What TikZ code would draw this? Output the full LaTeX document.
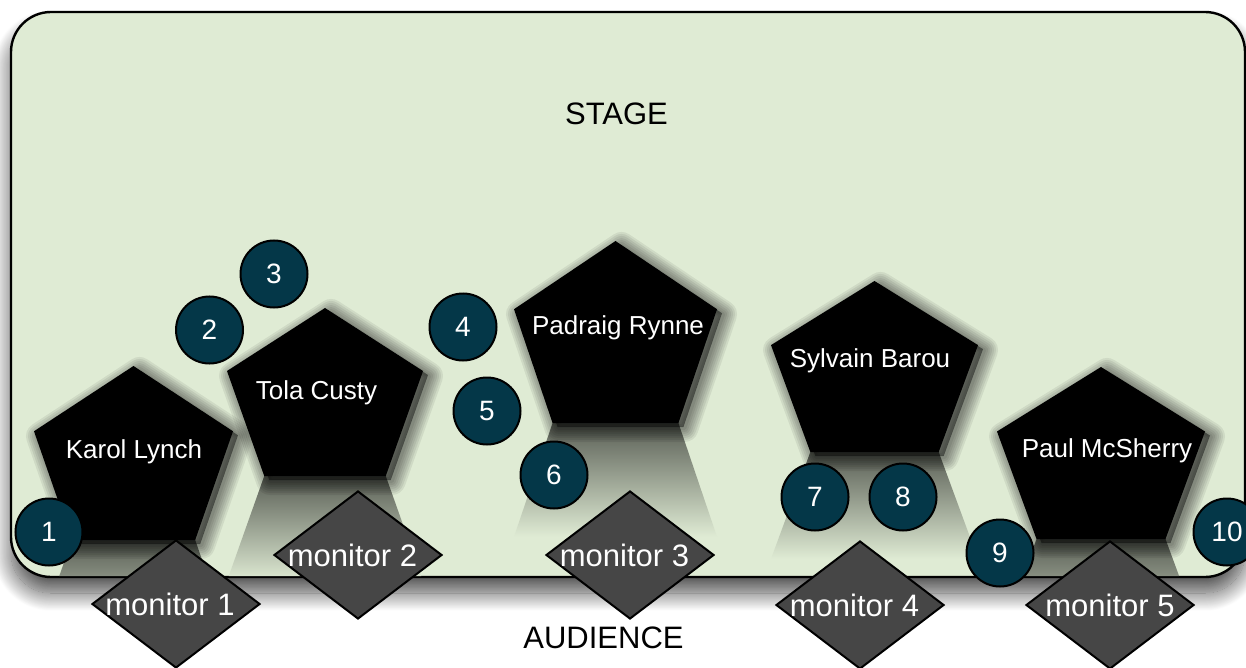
\documentclass[tikz,border=0pt]{standalone}
\usepackage{fontspec}
\setmainfont{Liberation Sans}
\usetikzlibrary{shadows.blur,shapes.geometric}
\definecolor{stagefill}{RGB}{223,235,212}
\definecolor{seatfill}{RGB}{4,55,72}
\definecolor{monfill}{RGB}{70,70,70}
\tikzset{
  stagebox/.style={draw=black, line width=2.4pt, fill=stagefill, rounded corners=40pt,
    blur shadow={shadow xshift=0pt, shadow yshift=-16pt, shadow blur radius=18pt,
      shadow opacity=70, shadow blur steps=24}},
  pentagonfill/.style={fill=black},
  pshadowfill/.style={fill=black, opacity=0.45, xshift=5pt, yshift=-4pt},
  pshadowline/.style={draw=black, opacity=0.07, line join=round, xshift=6pt, yshift=-5pt},
  reflection/.style={top color=stagefill!40!black, middle color=stagefill!82!black, bottom color=stagefill},
  pname/.style={text=white, font=\fontsize{26}{30}\selectfont, anchor=base, inner sep=0pt},
  seat/.style={circle, draw=black, line width=2pt, fill=seatfill, minimum size=67pt, inner sep=0pt,
    text=white, font=\fontsize{28}{32}\selectfont},
  monitor/.style={diamond, draw=black, line width=2pt, fill=monfill, minimum width=168pt,
    minimum height=128pt, inner sep=0pt, text=white, font=\fontsize{31}{35}\selectfont},
  bigtitle/.style={font=\fontsize{31}{35}\selectfont, inner sep=0pt}
}
% #1 name, #2 cx, #3 top, #4 bottom, #5 half width, #6 text x, #7 text baseline, #8 text
\newcommand{\performer}[8]{%
  \pgfmathsetmacro\pxl{#2-#5}%
  \pgfmathsetmacro\pxr{#2+#5}%
  \pgfmathsetmacro\pbl{#2-0.62*#5}%
  \pgfmathsetmacro\pbr{#2+0.62*#5}%
  \pgfmathsetmacro\psy{#3+0.375*(#4-#3)}%
  \pgfmathsetmacro\pry{#4+0.625*(#4-#3)}%
  % reflection, kept on the stage
  \begin{scope}
    \clip[rounded corners=40pt] (12,13) rectangle (1244,576);
    \shade[reflection] (\pbl,#4) -- (\pbr,#4) -- (\pxr,\pry) -- (\pxl,\pry) -- cycle;
  \end{scope}
  % soft drop shadow
  \foreach \w in {28,24,20,16,12,8,4}{%
    \draw[pshadowline, line width=\w pt] (#2,#3) -- (\pxr,\psy) -- (\pbr,#4) -- (\pbl,#4) -- (\pxl,\psy) -- cycle;
  }
  \fill[pshadowfill] (#2,#3) -- (\pxr,\psy) -- (\pbr,#4) -- (\pbl,#4) -- (\pxl,\psy) -- cycle;
  \path[pentagonfill] (#2,#3) -- (\pxr,\psy) -- (\pbr,#4) -- (\pbl,#4) -- (\pxl,\psy) -- cycle;
  \node[pname] (#1) at (#6,#7) {#8};
}
\begin{document}
\begin{tikzpicture}[x=1pt,y=-1pt]
\useasboundingbox (0,0) rectangle (1246,668);
\path[stagebox] (11,12) rectangle (1245,577);
\node[bigtitle] (stage) at (616.5,114) {STAGE};

\performer{karol}{133.5}{366}{540}{99.5}{134}{458}{Karol Lynch}
\performer{tola}{325}{308}{476}{98}{316.5}{399}{Tola Custy}
\performer{padraig}{615.5}{241}{423}{101.5}{618}{334}{Padraig Rynne}
\performer{sylvain}{874.5}{281}{452}{103.5}{870}{367}{Sylvain Barou}
\performer{paul}{1101}{367}{539}{104}{1107}{457}{Paul McSherry}

\node[seat] (s1) at (49,532) {1};
\node[seat] (s2) at (209.5,330) {2};
\node[seat] (s3) at (274,274) {3};
\node[seat] (s4) at (463,327) {4};
\node[seat] (s5) at (487,411) {5};
\node[seat] (s6) at (554,475) {6};
\node[seat] (s7) at (815,497) {7};
\node[seat] (s8) at (903,497) {8};
\node[seat] (s9) at (1000,553) {9};
\node[seat] (s10) at (1227,532) {10};

\node[monitor] (m1) at (176,604) {\hspace*{-12pt}\makebox[0pt]{monitor 1}};
\node[monitor] (m2) at (358,555) {\hspace*{-11pt}\makebox[0pt]{monitor 2}};
\node[monitor] (m3) at (630,555) {\hspace*{-11pt}\makebox[0pt]{monitor 3}};
\node[monitor] (m4) at (860,605) {\hspace*{-11pt}\makebox[0pt]{monitor 4}};
\node[monitor] (m5) at (1110,605) {\makebox[0pt]{monitor 5}};

\node[bigtitle] (audience) at (603.5,638) {AUDIENCE};
\end{tikzpicture}
\end{document}
